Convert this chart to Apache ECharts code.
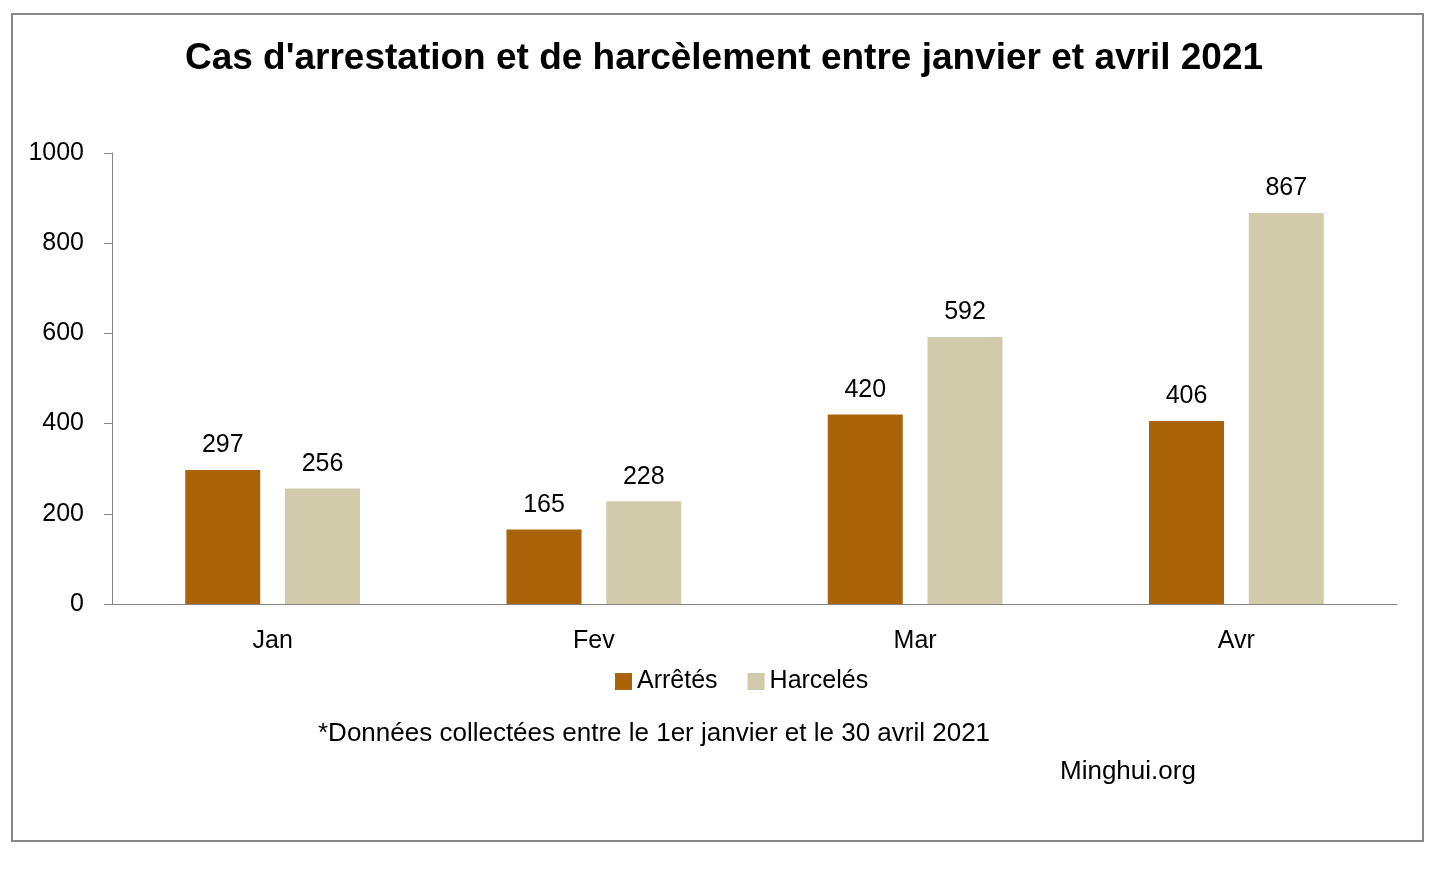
<!DOCTYPE html>
<html>
<head>
<meta charset="utf-8">
<script src="https://cdn.jsdelivr.net/npm/echarts@6/dist/echarts.min.js"></script>
<style>
html,body{margin:0;padding:0;background:#fff;}
#c{width:1448px;height:872px;}
</style>
</head>
<body>
<div id="c"></div>
<script>
var titleText = "Cas d'arrestation et de harcèlement entre janvier et avril 2021";
var categories = ["Jan", "Fev", "Mar", "Avr"];
var seriesNames = ["Arrêtés", "Harcelés"];
var arretes = [297, 165, 420, 406];
var harceles = [256, 228, 592, 867];
var yTicks = [0, 200, 400, 600, 800, 1000];
var footnote = "*Données collectées entre le 1er janvier et le 30 avril 2021";
var source = "Minghui.org";

var FONT = "Liberation Sans";
var FS = 25;
var chart = echarts.init(document.getElementById('c'));
var labelCfg = {show: true, position: 'top', distance: 12, color: '#000', fontFamily: FONT, fontSize: FS};
chart.setOption({
  backgroundColor: '#fff',
  animation: false,
  title: {
    text: titleText, left: 'center', top: 35,
    textStyle: {fontFamily: FONT, fontWeight: 'bold', fontSize: 37, color: '#000'}
  },
  legend: {
    data: seriesNames, left: 610, top: 664, itemWidth: 17, itemHeight: 17, itemGap: 30,
    icon: 'rect',
    textStyle: {fontFamily: FONT, fontSize: FS, color: '#000'}
  },
  grid: {left: 112, right: 51, top: 153, bottom: 268, containLabel: false},
  xAxis: {
    type: 'category', data: categories,
    axisLine: {lineStyle: {color: '#868686', width: 1}},
    axisTick: {show: false},
    axisLabel: {fontFamily: FONT, fontSize: FS, color: '#000', margin: 25}
  },
  yAxis: {
    type: 'value', min: yTicks[0], max: yTicks[yTicks.length - 1], interval: 200,
    axisLine: {show: true, lineStyle: {color: '#868686', width: 1}},
    axisTick: {show: true, length: 8, lineStyle: {color: '#868686'}},
    splitLine: {show: false},
    axisLabel: {fontFamily: FONT, fontSize: FS, color: '#000', margin: 28,
      formatter: function (v) { return String(v); }}
  },
  series: [
    {name: seriesNames[0], type: 'bar', data: arretes, barWidth: 75, barGap: '33%',
     itemStyle: {color: '#AB6309'}, label: labelCfg},
    {name: seriesNames[1], type: 'bar', data: harceles, barWidth: 75,
     itemStyle: {color: '#D1CBAC'}, label: labelCfg}
  ],
  graphic: [
    {type: 'rect', shape: {x: 12, y: 14, width: 1411, height: 827}, silent: true, z: -1,
     style: {fill: 'none', stroke: '#888', lineWidth: 2}},
    {type: 'text', left: 318, top: 721,
     style: {text: footnote, fontFamily: FONT, fontSize: 26, fill: '#000'}},
    {type: 'text', left: 1060, top: 759,
     style: {text: source, fontFamily: FONT, fontSize: 26, fill: '#000'}}
  ]
});
</script>
</body>
</html>
